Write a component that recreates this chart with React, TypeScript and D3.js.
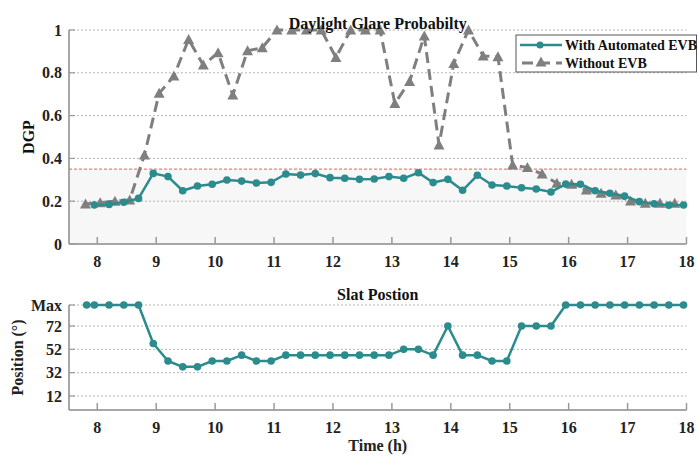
import { useEffect, useRef } from "react";
import * as d3 from "d3";

const TEAL = "#2b8b8d";
const GREY = "#7f7f7f";
const FONT = "'Liberation Serif', 'Times New Roman', serif";

// DGP with automated EVB
const evbTimes = [
  7.95, 8.2, 8.45, 8.7, 8.95, 9.2, 9.45, 9.7, 9.95, 10.2, 10.45, 10.7, 10.95, 11.2,
  11.45, 11.7, 11.95, 12.2, 12.45, 12.7, 12.95, 13.2, 13.45, 13.7, 13.95, 14.2, 14.45,
  14.7, 14.95, 15.2, 15.45, 15.7, 15.95, 16.2, 16.45, 16.7, 16.95, 17.2, 17.45, 17.7, 17.95,
];
const evbDgp = [
  0.182, 0.185, 0.195, 0.213, 0.33, 0.315, 0.249, 0.271, 0.279, 0.299, 0.294, 0.285, 0.288,
  0.327, 0.322, 0.329, 0.31, 0.307, 0.302, 0.304, 0.315, 0.307, 0.333, 0.287, 0.302, 0.251,
  0.321, 0.276, 0.271, 0.263, 0.257, 0.243, 0.28, 0.279, 0.249, 0.237, 0.224, 0.198, 0.188,
  0.181, 0.182,
];

// DGP without EVB
const noEvbTimes = [
  7.8, 8.05, 8.3, 8.55, 8.8, 9.05, 9.3, 9.55, 9.8, 10.05, 10.3, 10.55, 10.8, 11.05, 11.3,
  11.55, 11.8, 12.05, 12.3, 12.55, 12.8, 13.05, 13.3, 13.55, 13.8, 14.05, 14.3, 14.55, 14.8,
  15.05, 15.3, 15.55, 15.8, 16.05, 16.3, 16.55, 16.8, 17.05, 17.3, 17.55, 17.8,
];
const noEvbDgp = [
  0.187, 0.193, 0.2, 0.206, 0.416, 0.704, 0.785, 0.956, 0.836, 0.894, 0.696, 0.903, 0.917,
  1.0, 1.0, 1.0, 1.0, 0.872, 1.0, 1.0, 1.0, 0.657, 0.759, 0.972, 0.463, 0.844, 1.0, 0.879,
  0.875, 0.369, 0.357, 0.327, 0.284, 0.279, 0.252, 0.237, 0.229, 0.201, 0.19, 0.19, 0.19,
];

// slat angle (90 = Max)
const slatTimes = [
  7.82, 7.95, 8.2, 8.45, 8.7, 8.95, 9.2, 9.45, 9.7, 9.95, 10.2, 10.45, 10.7, 10.95, 11.2,
  11.45, 11.7, 11.95, 12.2, 12.45, 12.7, 12.95, 13.2, 13.45, 13.7, 13.95, 14.2, 14.45, 14.7,
  14.95, 15.2, 15.45, 15.7, 15.95, 16.2, 16.45, 16.7, 16.95, 17.2, 17.45, 17.7, 17.95,
];
const slatPos = [
  90, 90, 90, 90, 90, 57, 42, 37, 37, 42, 42, 47, 42, 42, 47, 47, 47, 47, 47, 47, 47, 47,
  52, 52, 47, 72, 47, 47, 42, 42, 72, 72, 72, 90, 90, 90, 90, 90, 90, 90, 90, 90,
];

const hourTicks = [8, 9, 10, 11, 12, 13, 14, 15, 16, 17, 18];
const dgpTicks = [0, 0.2, 0.4, 0.6, 0.8, 1];
const dgpTickLabels = ["0", "0.2", "0.4", "0.6", "0.8", "1"];
const slatTicks = [12, 32, 52, 72, 90];
const slatTickLabels = ["12", "32", "52", "72", "Max"];
const GLARE_LIMIT = 0.35;

const W = 698, H = 456;
const L = 69, R = 686.5;

type Sel = d3.Selection<SVGGElement, unknown, null, undefined>;

function frame(g: Sel, x: d3.ScaleLinear<number, number>, y: d3.ScaleLinear<number, number>,
  ticks: number[], labels: string[], gridFrom: number) {
  const [y0, y1] = y.range();
  // gridlines
  g.selectAll(null).data(ticks.filter((t, i) => i >= gridFrom)).join("line")
    .attr("x1", L).attr("x2", R).attr("y1", (d) => y(d)).attr("y2", (d) => y(d))
    .attr("stroke", "#b4b4b4").attr("stroke-width", 1).attr("stroke-dasharray", "2,2");
  // spines
  g.append("line").attr("x1", L).attr("x2", L).attr("y1", y1).attr("y2", y0)
    .attr("stroke", "#8a8a8a").attr("stroke-width", 1.5);
  g.append("line").attr("x1", L).attr("x2", R).attr("y1", y0).attr("y2", y0)
    .attr("stroke", "#8a8a8a").attr("stroke-width", 1.5);
  // x ticks (inward)
  g.selectAll(null).data(hourTicks).join("line")
    .attr("x1", (d) => x(d)).attr("x2", (d) => x(d)).attr("y1", y0).attr("y2", y0 - 7)
    .attr("stroke", "#9a9a9a").attr("stroke-width", 1.5);
  g.selectAll(null).data(hourTicks).join("text")
    .attr("x", (d) => x(d)).attr("y", y0 + 23).attr("text-anchor", "middle")
    .attr("font-family", FONT).attr("font-weight", "bold").attr("font-size", 16).attr("fill", "#222")
    .text((d) => d);
  // y ticks
  g.selectAll(null).data(ticks).join("line")
    .attr("x1", L).attr("x2", L + 6).attr("y1", (d) => y(d)).attr("y2", (d) => y(d))
    .attr("stroke", "#9a9a9a").attr("stroke-width", 1.2);
  g.selectAll(null).data(ticks).join("text")
    .attr("x", 62).attr("y", (d) => y(d) + 5.5).attr("text-anchor", "end")
    .attr("font-family", FONT).attr("font-weight", "bold").attr("font-size", 16).attr("fill", "#222")
    .text((d, i) => labels[i]);
}

const triPath = "M0,-5.5L5.5,4.5L-5.5,4.5Z";

export default function App() {
  const ref = useRef<SVGSVGElement>(null);

  useEffect(() => {
    const el = ref.current;
    if (!el) return;
    const svg = d3.select(el);
    svg.selectAll("*").remove();

    const x = d3.scaleLinear().domain([7.52, 18]).range([L, R]);
    const yT = d3.scaleLinear().domain([0, 1]).range([244, 30]);
    const yB = d3.scaleLinear().domain([0, 90]).range([410, 305]);

    // ---- top panel
    const top = svg.append("g");
    top.append("rect").attr("x", L).attr("y", yT(GLARE_LIMIT)).attr("width", R - L)
      .attr("height", yT(0) - yT(GLARE_LIMIT)).attr("fill", "#f7f7f7");
    frame(top, x, yT, dgpTicks, dgpTickLabels, 1);
    top.append("line").attr("x1", L).attr("x2", R).attr("y1", yT(GLARE_LIMIT)).attr("y2", yT(GLARE_LIMIT))
      .attr("stroke", "#e06060").attr("stroke-width", 1).attr("stroke-dasharray", "3,2");

    const noEvb = noEvbTimes.map((t, i) => [t, noEvbDgp[i]] as [number, number]);
    const evb = evbTimes.map((t, i) => [t, evbDgp[i]] as [number, number]);
    const lineT = d3.line<[number, number]>().x((d) => x(d[0])).y((d) => yT(d[1]));

    top.append("path").attr("d", lineT(noEvb)).attr("fill", "none").attr("stroke", GREY)
      .attr("stroke-width", 3).attr("stroke-dasharray", "11,6");
    top.selectAll(null).data(noEvb).join("path").attr("d", triPath)
      .attr("transform", (d) => `translate(${x(d[0])},${yT(d[1])})`).attr("fill", GREY);

    top.append("path").attr("d", lineT(evb)).attr("fill", "none").attr("stroke", TEAL).attr("stroke-width", 2.5);
    top.selectAll(null).data(evb).join("circle").attr("cx", (d) => x(d[0])).attr("cy", (d) => yT(d[1]))
      .attr("r", 3.8).attr("fill", TEAL);

    top.append("text").attr("x", (L + R) / 2).attr("y", 29).attr("text-anchor", "middle")
      .attr("font-family", FONT).attr("font-weight", "bold").attr("font-size", 16).attr("fill", "#111")
      .text("Daylight Glare Probabilty");
    top.append("text").attr("transform", `translate(33.5,${(yT(0) + yT(1)) / 2}) rotate(-90)`)
      .attr("text-anchor", "middle").attr("font-family", FONT).attr("font-weight", "bold")
      .attr("font-size", 16).attr("fill", "#111").text("DGP");

    // legend
    const lg = top.append("g");
    lg.append("rect").attr("x", 516).attr("y", 35).attr("width", 180.5).attr("height", 37)
      .attr("fill", "white").attr("stroke", "#555").attr("stroke-width", 1);
    lg.append("line").attr("x1", 520).attr("x2", 562).attr("y1", 45).attr("y2", 45)
      .attr("stroke", TEAL).attr("stroke-width", 2.5);
    lg.append("circle").attr("cx", 540).attr("cy", 45).attr("r", 3.5).attr("fill", TEAL);
    lg.append("line").attr("x1", 522).attr("x2", 562).attr("y1", 63).attr("y2", 63)
      .attr("stroke", GREY).attr("stroke-width", 3).attr("stroke-dasharray", "11,6");
    lg.append("path").attr("d", triPath).attr("transform", "translate(541,62)").attr("fill", GREY);
    lg.selectAll(null).data(["With Automated EVB", "Without EVB"]).join("text")
      .attr("x", 565).attr("y", (d, i) => 50 + i * 18).attr("font-family", FONT)
      .attr("font-weight", "bold").attr("font-size", 14).attr("fill", "#111").text((d) => d);

    // ---- bottom panel
    const bot = svg.append("g");
    frame(bot, x, yB, slatTicks, slatTickLabels, 0);
    const slat = slatTimes.map((t, i) => [t, slatPos[i]] as [number, number]);
    const lineB = d3.line<[number, number]>().x((d) => x(d[0])).y((d) => yB(d[1]));
    bot.append("path").attr("d", lineB(slat)).attr("fill", "none").attr("stroke", TEAL)
      .attr("stroke-width", 2.5).attr("stroke-linejoin", "round");
    bot.selectAll(null).data(slat).join("circle").attr("cx", (d) => x(d[0])).attr("cy", (d) => yB(d[1]))
      .attr("r", 3.8).attr("fill", TEAL);

    bot.append("text").attr("x", (L + R) / 2).attr("y", 300).attr("text-anchor", "middle")
      .attr("font-family", FONT).attr("font-weight", "bold").attr("font-size", 16).attr("fill", "#111")
      .text("Slat Postion");
    bot.append("text").attr("x", (L + R) / 2).attr("y", 451).attr("text-anchor", "middle")
      .attr("font-family", FONT).attr("font-weight", "bold").attr("font-size", 16).attr("fill", "#222")
      .text("Time (h)");
    bot.append("text").attr("transform", `translate(22.5,${(yB(0) + yB(90)) / 2}) rotate(-90)`)
      .attr("text-anchor", "middle").attr("font-family", FONT).attr("font-weight", "bold")
      .attr("font-size", 16).attr("fill", "#222").text("Position (°)");
  }, []);

  return (
    <svg ref={ref} width={W} height={H} viewBox={`0 0 ${W} ${H}`}
      style={{ position: "absolute", left: 0, top: 0, background: "white" }} />
  );
}
